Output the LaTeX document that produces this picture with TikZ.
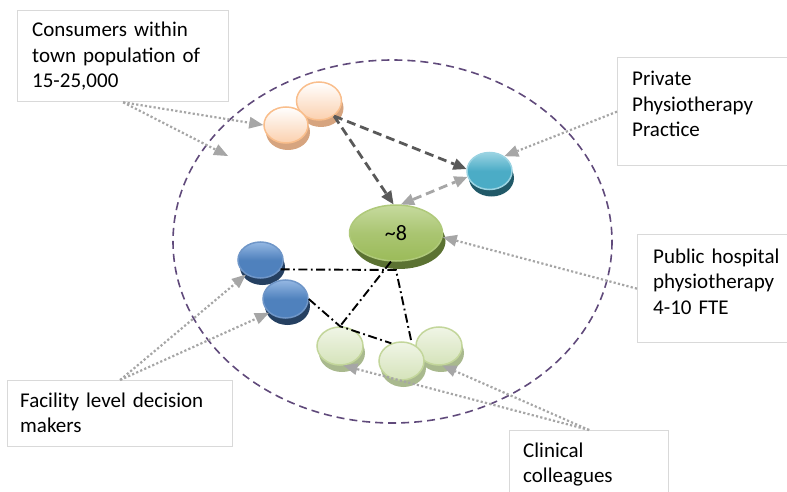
\documentclass[tikz,border=0pt]{standalone}
\usepackage{fontspec}
\setmainfont{Carlito}
\usetikzlibrary{arrows.meta,shapes.geometric,shadows}

\definecolor{zoneline}{HTML}{604A7B}
\definecolor{boxline}{HTML}{D9D9D9}
\definecolor{pointgray}{HTML}{A6A6A6}
\definecolor{flowdark}{HTML}{595959}
\definecolor{orOut}{HTML}{F9BE8C}
\definecolor{orFill}{HTML}{FBD0AE}
\definecolor{orShadow}{HTML}{D6A47F}
\definecolor{tlTop}{HTML}{9AD3E2}
\definecolor{tlFill}{HTML}{4BACC6}
\definecolor{tlShadow}{HTML}{215968}
\definecolor{blTop}{HTML}{95B8E3}
\definecolor{blFill}{HTML}{4F81BD}
\definecolor{blOut}{HTML}{6F96C8}
\definecolor{blShadow}{HTML}{254061}
\definecolor{gnTop}{HTML}{C6DA9E}
\definecolor{gnFill}{HTML}{9BBB59}
\definecolor{gnShadow}{HTML}{5B7232}
\definecolor{lgTop}{HTML}{F0F5E6}
\definecolor{lgFill}{HTML}{D5E3BA}
\definecolor{lgOut}{HTML}{C3D69B}
\definecolor{lgShadow}{HTML}{A9B98E}

\tikzset{
  bead/.style={ellipse, inner sep=0pt, line width=1.5pt},
  orbead/.style={bead, draw=orOut, top color=white, bottom color=orFill,
    drop shadow={shadow xshift=2pt, shadow yshift=-7pt, fill=orShadow, opacity=1}},
  tlbead/.style={bead, draw=tlTop, top color=tlTop, bottom color=tlFill, middle color=tlFill,
    drop shadow={shadow xshift=2pt, shadow yshift=-7pt, fill=tlShadow, opacity=1}},
  blbead/.style={bead, draw=blOut, top color=blTop, bottom color=blFill, middle color=blFill,
    drop shadow={shadow xshift=2pt, shadow yshift=-7pt, fill=blShadow, opacity=1}},
  gnbead/.style={bead, draw=gnFill!80!white, top color=gnTop, bottom color=gnFill, middle color=gnFill!85!white,
    drop shadow={shadow xshift=3pt, shadow yshift=-8pt, fill=gnShadow, opacity=1}},
  lgbead/.style={bead, draw=lgOut, top color=lgTop, bottom color=lgFill,
    drop shadow={shadow xshift=2pt, shadow yshift=-7pt, fill=lgShadow, opacity=1}},
  labelbox/.style={draw=boxline, line width=1.3pt, fill=white, inner sep=0pt, anchor=north west},
  labeltext/.style={inner sep=0pt, anchor=base west, align=left, text width=#1,
    font=\fontsize{21}{25.5}\selectfont},
  pointer/.style={draw=pointgray, line width=2.2pt, dash pattern=on 2.2pt off 2.2pt,
    -{Triangle[length=14pt,width=12pt,fill=pointgray,line width=0pt]}},
  flow/.style={draw=flowdark, line width=2.8pt, dash pattern=on 9pt off 5pt,
    -{Triangle[length=13pt,width=12pt,fill=flowdark,line width=0pt]}},
  flowlight/.style={draw=pointgray, line width=2.8pt, dash pattern=on 9pt off 5pt,
    {Triangle[length=13pt,width=12pt,fill=pointgray,line width=0pt]}-{Triangle[length=13pt,width=12pt,fill=pointgray,line width=0pt]}},
  link/.style={draw=black, line width=1.9pt, dash pattern=on 9pt off 3.5pt on 1.8pt off 3.5pt},
  zone/.style={draw=zoneline, line width=1.6pt, dash pattern=on 8pt off 5pt}
}

\begin{document}
\begin{tikzpicture}[x=1pt, y=-1pt]
\useasboundingbox (0,0) rectangle (787,492);
\clip (0,0) rectangle (787,492);

% boundary of the local setting
\draw[zone] (392.5,241.5) ellipse [x radius=219.5, y radius=181.5];

% label boxes
\node[labelbox, minimum width=211pt, minimum height=91pt] (cons) at (17,10) {};
\node[labeltext=200pt] at (32,37) {Consumers within\\town population of\\15-25,000};

\node[labelbox, minimum width=200pt, minimum height=108pt] (priv) at (617,57) {};
\node[labeltext=160pt] at (632,86) {Private\\Physiotherapy\\Practice};

\node[labelbox, minimum width=200pt, minimum height=108pt] (pub) at (637,234) {};
\node[labeltext=160pt] at (653,263) {Public hospital\\physiotherapy\\4-10 FTE};

\node[labelbox, minimum width=225pt, minimum height=66pt] (fac) at (7,380) {};
\node[labeltext=215pt] at (20,407) {Facility level decision\\makers};

\node[labelbox, minimum width=159pt, minimum height=90pt] (clin) at (509,430) {};
\node[labeltext=150pt] at (523,457) {Clinical\\colleagues};

% stakeholder beads
\node[orbead, minimum width=45pt, minimum height=38pt] (o2) at (319,101) {};
\node[orbead, minimum width=44pt, minimum height=36pt] (o1) at (286,125) {};
\node[tlbead, minimum width=45pt, minimum height=37pt] (t) at (489.5,171) {};
\node[gnbead, minimum width=93pt, minimum height=56pt, font=\fontsize{22}{25}\selectfont] (g) at (396,233) {\raisebox{-4pt}{\textasciitilde 8}};
\node[blbead, minimum width=45pt, minimum height=36pt] (b1) at (260.5,260) {};
\node[blbead, minimum width=45pt, minimum height=38pt] (b2) at (285.5,299) {};
\node[lgbead, minimum width=46pt, minimum height=38pt] (lg1) at (340,346) {};
\node[lgbead, minimum width=46pt, minimum height=38pt] (lg3) at (439,346) {};
\node[lgbead, minimum width=45pt, minimum height=38pt] (lg2) at (401.5,361) {};

% working relationships
\coordinate (gc) at (396,270);
\draw[link] (b1.-25) -- (gc) -- (lg2.60);
\draw[link] (g.-100) -- (lg1.north);
\draw[link] (b2.east) -- (lg1.north) -- (lg2.120);

% referral flows
\draw[flow] (o2.-45) -- (g.95);
\draw[flow] (o2.-45) -- (t.175);
\draw[flowlight] (g.80) -- (t.195);

% label pointers
\coordinate (cfree) at (228,156);
\draw[pointer] (cons.south) -- (o1.180);
\draw[pointer] (cons.south) -- (cfree);
\draw[pointer] (priv.west) -- (t.45);
\draw[pointer] (pub.west) -- (g.-5);
\draw[pointer] (fac.north) -- (b1.-135);
\draw[pointer] (fac.north) -- (b2.-140);
\draw[pointer] (clin.north) -- (lg1.-80);
\draw[pointer] (clin.north) -- (lg3.-80);
\end{tikzpicture}
\end{document}
